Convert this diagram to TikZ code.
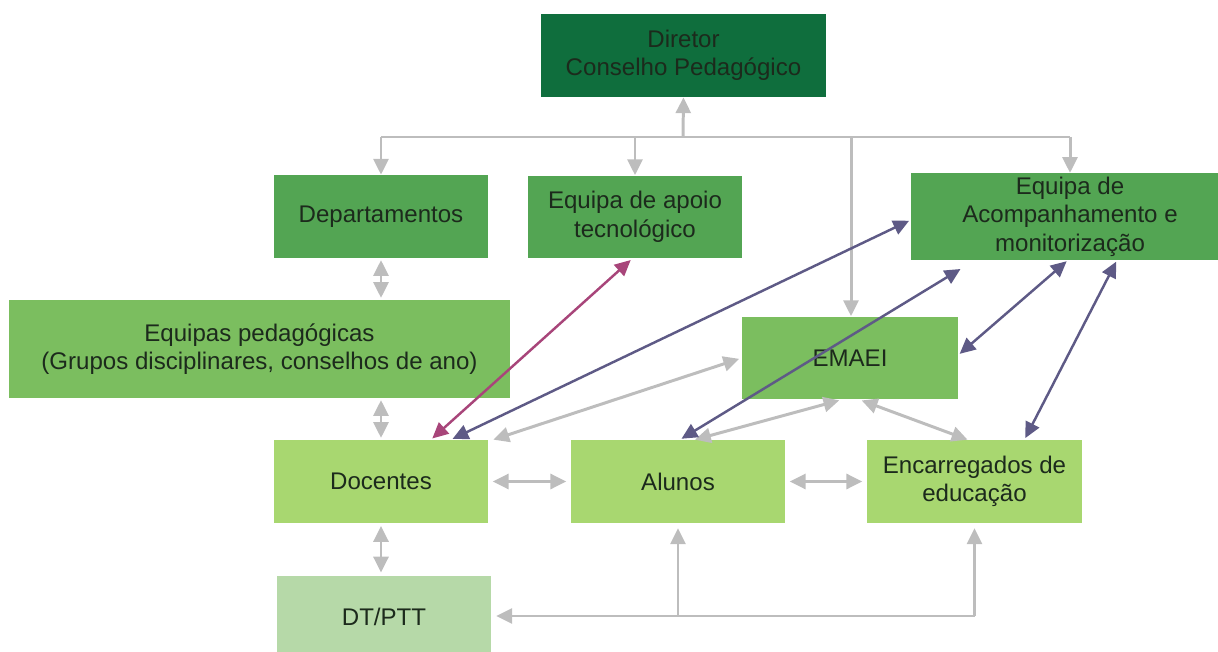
\documentclass[tikz,border=0pt]{standalone}
\usepackage{fontspec}
\setmainfont{Liberation Sans}
\usetikzlibrary{arrows.meta}

\definecolor{dirgreen}{HTML}{0F6E3D}
\definecolor{midgreen}{HTML}{53A553}
\definecolor{pedgreen}{HTML}{7BBE5F}
\definecolor{lowgreen}{HTML}{A8D770}
\definecolor{dtgreen}{HTML}{B6D9A8}
\definecolor{boxtext}{HTML}{1C2A1C}
\definecolor{linegray}{HTML}{BDBDBD}
\definecolor{linepurple}{HTML}{5E5A86}
\definecolor{linemag}{HTML}{A8457A}

\tikzset{>={Triangle[width=8.5pt,length=9pt]}}

\begin{document}
\begin{tikzpicture}[x=0.02cm,y=-0.02cm,
  box/.style={rectangle, minimum width=4.28cm, minimum height=1.66cm, align=center,
    text=boxtext, inner sep=2pt, font=\fontsize{13.7}{16.2}\selectfont},
  gline/.style={draw=linegray, line width=1.7pt},
  garrow/.style={gline, shorten >=2.5pt, shorten <=2.5pt},
  pline/.style={draw=linepurple, line width=1.4pt, shorten >=1pt, shorten <=1pt},
  mline/.style={draw=linemag, line width=1.4pt, shorten >=1pt, shorten <=1pt}]

\clip (0,0) rectangle (1218,652);

% Top level
\node[box, fill=dirgreen, minimum width=5.7cm] (dir) at (683.5,55.5) {Diretor\\Conselho Pedagógico};

% Second row
\node[box, fill=midgreen] (dep) at (381,216.5) {Departamentos};
\node[box, fill=midgreen] (apo) at (635,217) {Equipa de apoio\\tecnológico};
\node[box, fill=midgreen, minimum width=6.36cm] (aco) at (1070,216.5) {Equipa de\\Acompanhamento e\\monitorização};

% Middle row
\node[box, fill=pedgreen, minimum width=10.02cm, minimum height=1.96cm] (ped) at (259.5,349) {Equipas pedagógicas\\(Grupos disciplinares, conselhos de ano)};
\node[box, fill=pedgreen, minimum width=4.32cm] (ema) at (850,358) {EMAEI};

% Bottom row
\node[box, fill=lowgreen] (doc) at (381,481.5) {Docentes};
\node[box, fill=lowgreen] (alu) at (678,481.5) {Alunos};
\node[box, fill=lowgreen, minimum width=4.3cm] (enc) at (974.5,481.5) {Encarregados de\\educação};
\node[box, fill=dtgreen] (dtp) at (384,617) {DT/PTT};

% Bus under the director
\coordinate (bus) at (683,137);
\draw[gline] (dep.north |- bus) -- (aco.north |- bus);
\draw[gline,->] (bus) -- (dir.south);
\draw[gline,->] (dep.north |- bus) -- (dep.north);
\draw[gline,->] (apo.north |- bus) -- (apo.north);
\draw[gline,->] (aco.north |- bus) -- (aco.north);
\draw[gline,->] ([xshift=0.02cm]ema.north |- bus) -- ([xshift=0.02cm]ema.north);

% Left column
\draw[gline,<->,shorten >=1pt,shorten <=1pt] (dep.south) -- (dep.south |- ped.north);
\draw[gline,<->,shorten >=1pt,shorten <=1pt] (doc.north |- ped.south) -- (doc.north);
\draw[gline,<->,shorten >=1.5pt,shorten <=1.5pt] (doc.south) -- (doc.south |- dtp.north);

% Bottom row links
\draw[garrow,<->] (doc.east) -- (alu.west);
\draw[garrow,<->] (alu.east) -- (enc.west);

\coordinate (low) at (680,616);
\draw[gline,->,shorten >=2.8pt] (enc.south |- low) -- (dtp.east |- low);
\draw[gline,->,shorten >=2.8pt] (alu.south |- low) -- (alu.south);
\draw[gline,->,shorten >=2.8pt] (enc.south |- low) -- (enc.south);

% Links to EMAEI
\draw[gline,<->,shorten >=1.5pt] ([xshift=0.1cm]doc.north east) -- (ema.west);
\draw[gline,<->,shorten >=1pt] ([xshift=0.34cm]alu.north) -- ([xshift=-0.18cm]ema.south);
\draw[gline,<->,shorten <=1pt] ([xshift=0.2cm]ema.south) -- ([xshift=-0.14cm]enc.north);

% Technology team
\draw[mline,<->] ([xshift=1cm]doc.north) -- ([xshift=-0.06cm]apo.south);

% Monitoring team
\draw[pline,<->] ([xshift=1.4cm]doc.north) -- ([yshift=-0.07cm]aco.west);
\draw[pline,<->] ([xshift=0.04cm]alu.north) -- ([xshift=-2.16cm,yshift=-0.16cm]aco.south);
\draw[pline,<->] ([yshift=0.06cm]ema.east) -- ([xshift=-0.04cm]aco.south);
\draw[pline,<->] ([xshift=1cm]enc.north) -- ([xshift=0.94cm]aco.south);

\end{tikzpicture}
\end{document}
